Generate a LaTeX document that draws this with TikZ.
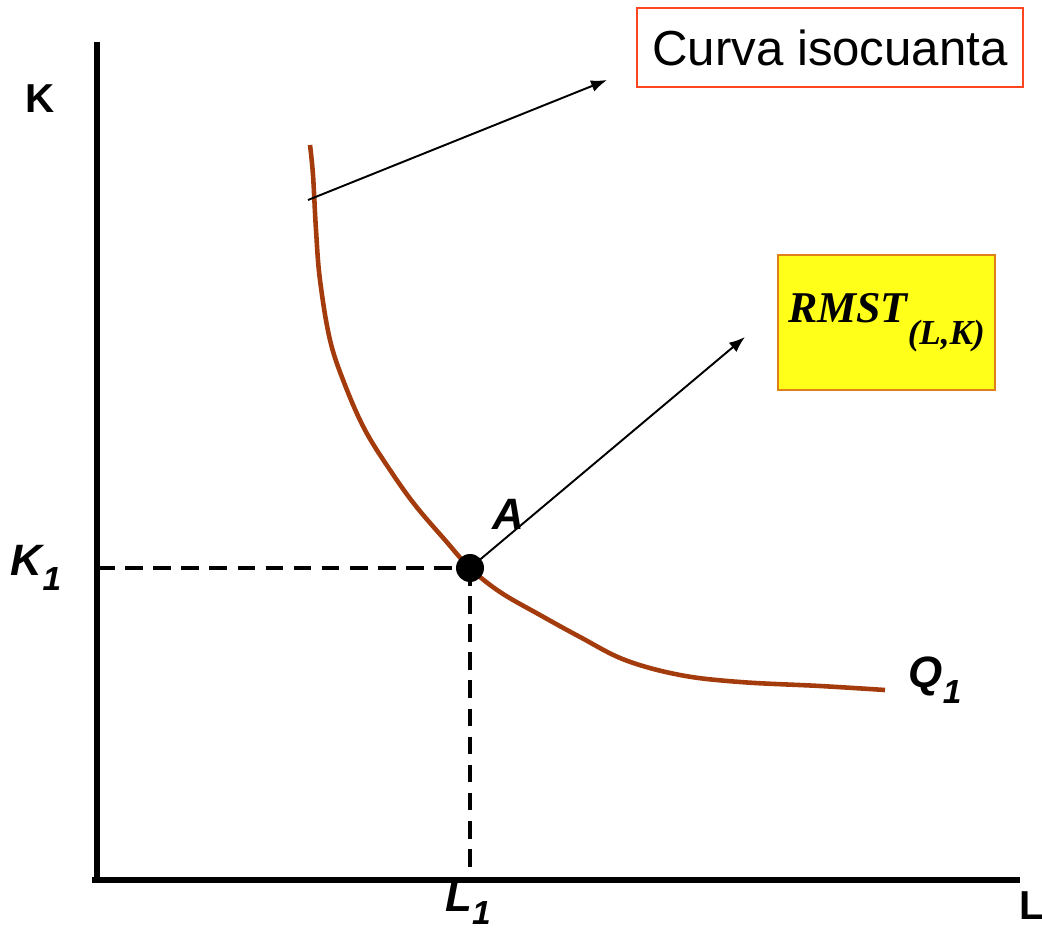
\documentclass[tikz,border=0pt]{standalone}
\usepackage{fontspec}
\setmainfont{Liberation Sans}
\newfontfamily\timesfont{Liberation Serif}
\usetikzlibrary{positioning,arrows.meta,calc}
\usepackage{xcolor}
\definecolor{IsoBrown}{HTML}{A33B0C}
\definecolor{BoxRed}{HTML}{FF4520}
\definecolor{BoxYellow}{HTML}{FFFF1A}
\definecolor{BoxOrange}{HTML}{E0801A}
\tikzset{
  axis/.style={line width=2.9pt, black},
  guide/.style={line width=2.2pt, black, dash pattern=on 10pt off 6pt},
  isocurve/.style={line width=2.6pt, IsoBrown},
  pointer/.style={-{Latex[length=3.2mm,width=2.4mm]}, line width=1.1pt, black},
  tag/.style={font=\fontsize{25}{29}\selectfont\bfseries\itshape, inner sep=0pt},
  axislabel/.style={font=\fontsize{23}{27}\selectfont\bfseries, inner sep=0pt},
  notebox/.style={draw=BoxRed, line width=1pt, fill=white, inner sep=0pt,
                  font=\fontsize{28}{32}\selectfont},
}

\begin{document}
\begin{tikzpicture}[x=0.02cm, y=-0.02cm]
  \useasboundingbox (0,0) rectangle (1042,932);
  % axes
  \coordinate (o) at (97,880);
  \coordinate (ktop) at (97,42);
  \coordinate (lend) at (1020,880);
  \draw[axis] (ktop) -- (97,882);
  \draw[axis] (92,880) -- (lend);
  \node[axislabel] (klab) at (40,99) {K};
  \node[axislabel] (llab) at (1032,906) {L};
  % isoquant
  \draw[isocurve] plot[smooth, tension=0.6] coordinates {
    (310,145) (313,175) (316,230) (320,280) (330,340) (345,385) (365,430)
    (390,470) (415,505) (445,540) (470,568) (500,592) (540,615) (580,637)
    (625,660) (680,675) (740,682) (820,686) (885,690)};
  \node[tag] (q) at (935,680) {Q\raisebox{-0.35em}{\fontsize{19}{22}\selectfont 1}};
  % point A and guides
  \coordinate (a) at (470,568);
  \coordinate (k1) at (97,568);
  \coordinate (l1) at (470,880);
  \draw[guide] (k1) -- (a);
  \draw[guide] (a) -- (l1);
  \fill[black] (a) circle (0.28cm);
  \node[tag] (alab) at (508,514) {A};
  \node[tag] (k1lab) at (36,568) {K\raisebox{-0.35em}{\fontsize{19}{22}\selectfont 1}};
  \node[tag] (l1lab) at (468,903) {L\raisebox{-0.3em}{\fontsize{19}{22}\selectfont 1}};
  % labels with pointers
  \node[notebox, minimum width=7.72cm, minimum height=1.58cm] (iso) at (830,47.5) {Curva isocuanta};
  \node[draw=BoxOrange, line width=1.2pt, fill=BoxYellow, minimum width=4.34cm, minimum height=2.7cm,
        inner sep=0pt, font=\timesfont\bfseries\itshape\fontsize{25}{29}\selectfont] (rmst) at (886.5,322.5)
        {RMST\raisebox{-0.5em}{\fontsize{20}{24}\selectfont(L,K)}};
  \coordinate (p1) at (308,200);
  \coordinate (p1end) at (607,80);
  \coordinate (p2end) at (745,337);
  \draw[pointer] (p1) -- (p1end);
  \draw[pointer] (a) -- (p2end);
\end{tikzpicture}
\end{document}
